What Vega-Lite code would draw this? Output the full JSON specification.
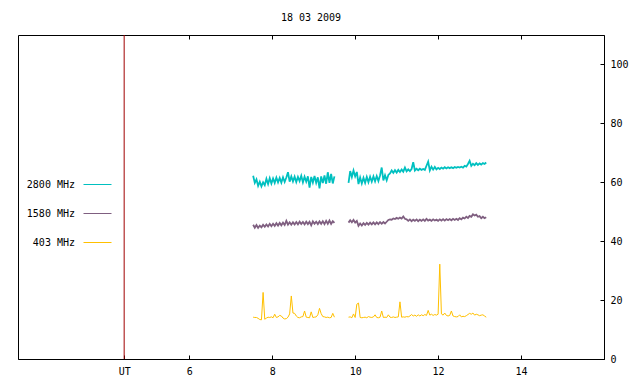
{
  "$schema": "https://vega.github.io/schema/vega-lite/v6.json",
  "autosize": "none",
  "width": 586,
  "height": 324,
  "padding": {"left": 18, "top": 35, "right": 36, "bottom": 25},
  "background": "white",
  "title": {"text": "18 03 2009", "font": "DejaVu Sans Mono", "fontSize": 10, "fontWeight": "normal", "color": "black", "anchor": "middle", "offset": 12},
  "config": {
    "view": {"stroke": "black", "strokeWidth": 1},
    "axis": {"domainColor": "black", "tickColor": "black", "labelColor": "black", "labelFont": "DejaVu Sans Mono", "labelFontSize": 10, "grid": false, "title": null, "tickSize": -4, "domainWidth": 1}
  },
  "datasets": {
    "flux": [
      {"t": 7.54, "s": 1, "2800 MHz": 62.2, "1580 MHz": 45.6, "403 MHz": 14.2},
      {"t": 7.58, "s": 1, "2800 MHz": 59.8, "1580 MHz": 44.6, "403 MHz": 14.1},
      {"t": 7.62, "s": 1, "2800 MHz": 61.0, "1580 MHz": 45.5, "403 MHz": 14.1},
      {"t": 7.66, "s": 1, "2800 MHz": 58.8, "1580 MHz": 44.5, "403 MHz": 13.8},
      {"t": 7.70, "s": 1, "2800 MHz": 60.2, "1580 MHz": 45.3, "403 MHz": 13.4},
      {"t": 7.74, "s": 1, "2800 MHz": 58.6, "1580 MHz": 44.7, "403 MHz": 13.3},
      {"t": 7.78, "s": 1, "2800 MHz": 60.0, "1580 MHz": 45.6, "403 MHz": 22.6},
      {"t": 7.82, "s": 1, "2800 MHz": 59.0, "1580 MHz": 44.9, "403 MHz": 13.5},
      {"t": 7.86, "s": 1, "2800 MHz": 61.2, "1580 MHz": 45.7, "403 MHz": 13.9},
      {"t": 7.90, "s": 1, "2800 MHz": 59.4, "1580 MHz": 45.0, "403 MHz": 14.2},
      {"t": 7.94, "s": 1, "2800 MHz": 61.4, "1580 MHz": 45.9, "403 MHz": 14.1},
      {"t": 7.98, "s": 1, "2800 MHz": 59.6, "1580 MHz": 45.1, "403 MHz": 14.3},
      {"t": 8.02, "s": 1, "2800 MHz": 61.3, "1580 MHz": 45.9, "403 MHz": 14.0},
      {"t": 8.06, "s": 1, "2800 MHz": 59.8, "1580 MHz": 45.2, "403 MHz": 15.2},
      {"t": 8.10, "s": 1, "2800 MHz": 61.6, "1580 MHz": 46.1, "403 MHz": 14.1},
      {"t": 8.14, "s": 1, "2800 MHz": 60.0, "1580 MHz": 45.3, "403 MHz": 14.3},
      {"t": 8.18, "s": 1, "2800 MHz": 61.5, "1580 MHz": 46.2, "403 MHz": 14.8},
      {"t": 8.22, "s": 1, "2800 MHz": 59.9, "1580 MHz": 45.4, "403 MHz": 14.6},
      {"t": 8.26, "s": 1, "2800 MHz": 61.7, "1580 MHz": 46.3, "403 MHz": 13.9},
      {"t": 8.30, "s": 1, "2800 MHz": 60.1, "1580 MHz": 45.5, "403 MHz": 13.6},
      {"t": 8.34, "s": 1, "2800 MHz": 61.6, "1580 MHz": 46.9, "403 MHz": 13.7},
      {"t": 8.38, "s": 1, "2800 MHz": 63.4, "1580 MHz": 45.6, "403 MHz": 14.2},
      {"t": 8.42, "s": 1, "2800 MHz": 60.2, "1580 MHz": 46.4, "403 MHz": 15.3},
      {"t": 8.46, "s": 1, "2800 MHz": 62.0, "1580 MHz": 45.6, "403 MHz": 21.4},
      {"t": 8.50, "s": 1, "2800 MHz": 60.3, "1580 MHz": 46.4, "403 MHz": 15.6},
      {"t": 8.54, "s": 1, "2800 MHz": 61.9, "1580 MHz": 45.7, "403 MHz": 15.5},
      {"t": 8.58, "s": 1, "2800 MHz": 60.1, "1580 MHz": 46.5, "403 MHz": 14.6},
      {"t": 8.62, "s": 1, "2800 MHz": 61.8, "1580 MHz": 45.7, "403 MHz": 14.1},
      {"t": 8.66, "s": 1, "2800 MHz": 60.4, "1580 MHz": 46.6, "403 MHz": 14.0},
      {"t": 8.70, "s": 1, "2800 MHz": 62.2, "1580 MHz": 45.8, "403 MHz": 14.3},
      {"t": 8.74, "s": 1, "2800 MHz": 60.0, "1580 MHz": 46.5, "403 MHz": 14.4},
      {"t": 8.78, "s": 1, "2800 MHz": 61.9, "1580 MHz": 45.7, "403 MHz": 16.3},
      {"t": 8.82, "s": 1, "2800 MHz": 60.2, "1580 MHz": 46.6, "403 MHz": 14.2},
      {"t": 8.86, "s": 1, "2800 MHz": 62.0, "1580 MHz": 45.8, "403 MHz": 14.1},
      {"t": 8.90, "s": 1, "2800 MHz": 58.2, "1580 MHz": 46.6, "403 MHz": 14.0},
      {"t": 8.94, "s": 1, "2800 MHz": 61.8, "1580 MHz": 45.4, "403 MHz": 16.0},
      {"t": 8.98, "s": 1, "2800 MHz": 59.9, "1580 MHz": 46.7, "403 MHz": 14.1},
      {"t": 9.02, "s": 1, "2800 MHz": 62.1, "1580 MHz": 45.9, "403 MHz": 14.2},
      {"t": 9.06, "s": 1, "2800 MHz": 59.8, "1580 MHz": 46.6, "403 MHz": 14.3},
      {"t": 9.10, "s": 1, "2800 MHz": 61.7, "1580 MHz": 45.8, "403 MHz": 15.0},
      {"t": 9.14, "s": 1, "2800 MHz": 57.9, "1580 MHz": 46.7, "403 MHz": 17.2},
      {"t": 9.18, "s": 1, "2800 MHz": 62.0, "1580 MHz": 45.9, "403 MHz": 15.4},
      {"t": 9.22, "s": 1, "2800 MHz": 59.7, "1580 MHz": 46.8, "403 MHz": 14.4},
      {"t": 9.26, "s": 1, "2800 MHz": 62.3, "1580 MHz": 45.8, "403 MHz": 14.3},
      {"t": 9.30, "s": 1, "2800 MHz": 59.5, "1580 MHz": 46.9, "403 MHz": 14.1},
      {"t": 9.34, "s": 1, "2800 MHz": 63.4, "1580 MHz": 45.9, "403 MHz": 14.2},
      {"t": 9.38, "s": 1, "2800 MHz": 59.8, "1580 MHz": 47.0, "403 MHz": 14.0},
      {"t": 9.42, "s": 1, "2800 MHz": 62.8, "1580 MHz": 45.9, "403 MHz": 14.1},
      {"t": 9.46, "s": 1, "2800 MHz": 59.6, "1580 MHz": 46.8, "403 MHz": 15.5},
      {"t": 9.50, "s": 1, "2800 MHz": 62.0, "1580 MHz": 46.2, "403 MHz": 14.2},
      {"t": 9.84, "s": 2, "2800 MHz": 59.8, "1580 MHz": 46.3, "403 MHz": 14.2},
      {"t": 9.88, "s": 2, "2800 MHz": 63.8, "1580 MHz": 47.1, "403 MHz": 14.3},
      {"t": 9.92, "s": 2, "2800 MHz": 61.8, "1580 MHz": 46.4, "403 MHz": 14.0},
      {"t": 9.96, "s": 2, "2800 MHz": 64.0, "1580 MHz": 47.2, "403 MHz": 15.3},
      {"t": 10.00, "s": 2, "2800 MHz": 62.0, "1580 MHz": 46.3, "403 MHz": 14.1},
      {"t": 10.04, "s": 2, "2800 MHz": 63.5, "1580 MHz": 46.9, "403 MHz": 18.6},
      {"t": 10.08, "s": 2, "2800 MHz": 59.4, "1580 MHz": 45.2, "403 MHz": 19.0},
      {"t": 10.12, "s": 2, "2800 MHz": 61.6, "1580 MHz": 46.0, "403 MHz": 14.1},
      {"t": 10.16, "s": 2, "2800 MHz": 59.6, "1580 MHz": 45.3, "403 MHz": 14.0},
      {"t": 10.20, "s": 2, "2800 MHz": 61.5, "1580 MHz": 46.1, "403 MHz": 14.1},
      {"t": 10.24, "s": 2, "2800 MHz": 59.8, "1580 MHz": 45.5, "403 MHz": 14.2},
      {"t": 10.28, "s": 2, "2800 MHz": 61.8, "1580 MHz": 46.2, "403 MHz": 14.0},
      {"t": 10.32, "s": 2, "2800 MHz": 60.0, "1580 MHz": 45.6, "403 MHz": 14.4},
      {"t": 10.36, "s": 2, "2800 MHz": 61.9, "1580 MHz": 46.3, "403 MHz": 14.2},
      {"t": 10.40, "s": 2, "2800 MHz": 60.2, "1580 MHz": 45.7, "403 MHz": 14.1},
      {"t": 10.44, "s": 2, "2800 MHz": 62.0, "1580 MHz": 46.4, "403 MHz": 14.3},
      {"t": 10.48, "s": 2, "2800 MHz": 60.3, "1580 MHz": 45.7, "403 MHz": 15.0},
      {"t": 10.52, "s": 2, "2800 MHz": 62.1, "1580 MHz": 46.4, "403 MHz": 14.1},
      {"t": 10.56, "s": 2, "2800 MHz": 60.4, "1580 MHz": 45.8, "403 MHz": 14.0},
      {"t": 10.60, "s": 2, "2800 MHz": 62.3, "1580 MHz": 46.5, "403 MHz": 14.2},
      {"t": 10.64, "s": 2, "2800 MHz": 65.0, "1580 MHz": 45.9, "403 MHz": 16.3},
      {"t": 10.68, "s": 2, "2800 MHz": 60.6, "1580 MHz": 46.5, "403 MHz": 14.1},
      {"t": 10.72, "s": 2, "2800 MHz": 62.4, "1580 MHz": 46.0, "403 MHz": 14.2},
      {"t": 10.76, "s": 2, "2800 MHz": 60.7, "1580 MHz": 46.6, "403 MHz": 14.1},
      {"t": 10.80, "s": 2, "2800 MHz": 62.5, "1580 MHz": 47.2, "403 MHz": 15.0},
      {"t": 10.84, "s": 2, "2800 MHz": 63.0, "1580 MHz": 47.4, "403 MHz": 14.2},
      {"t": 10.88, "s": 2, "2800 MHz": 64.0, "1580 MHz": 47.3, "403 MHz": 14.1},
      {"t": 10.92, "s": 2, "2800 MHz": 63.2, "1580 MHz": 47.7, "403 MHz": 14.3},
      {"t": 10.96, "s": 2, "2800 MHz": 64.1, "1580 MHz": 47.5, "403 MHz": 14.1},
      {"t": 11.00, "s": 2, "2800 MHz": 63.3, "1580 MHz": 47.9, "403 MHz": 14.2},
      {"t": 11.04, "s": 2, "2800 MHz": 64.2, "1580 MHz": 47.6, "403 MHz": 14.3},
      {"t": 11.08, "s": 2, "2800 MHz": 63.5, "1580 MHz": 48.0, "403 MHz": 19.4},
      {"t": 11.12, "s": 2, "2800 MHz": 64.3, "1580 MHz": 47.7, "403 MHz": 14.2},
      {"t": 11.16, "s": 2, "2800 MHz": 63.6, "1580 MHz": 48.4, "403 MHz": 14.3},
      {"t": 11.20, "s": 2, "2800 MHz": 65.0, "1580 MHz": 47.6, "403 MHz": 14.2},
      {"t": 11.24, "s": 2, "2800 MHz": 63.7, "1580 MHz": 47.4, "403 MHz": 14.4},
      {"t": 11.28, "s": 2, "2800 MHz": 64.4, "1580 MHz": 46.9, "403 MHz": 14.3},
      {"t": 11.32, "s": 2, "2800 MHz": 63.8, "1580 MHz": 47.4, "403 MHz": 14.6},
      {"t": 11.36, "s": 2, "2800 MHz": 64.5, "1580 MHz": 46.8, "403 MHz": 15.1},
      {"t": 11.40, "s": 2, "2800 MHz": 66.8, "1580 MHz": 47.3, "403 MHz": 14.6},
      {"t": 11.44, "s": 2, "2800 MHz": 64.0, "1580 MHz": 46.9, "403 MHz": 14.9},
      {"t": 11.48, "s": 2, "2800 MHz": 64.6, "1580 MHz": 47.4, "403 MHz": 14.5},
      {"t": 11.52, "s": 2, "2800 MHz": 64.1, "1580 MHz": 46.8, "403 MHz": 15.0},
      {"t": 11.56, "s": 2, "2800 MHz": 64.6, "1580 MHz": 47.3, "403 MHz": 14.6},
      {"t": 11.60, "s": 2, "2800 MHz": 64.2, "1580 MHz": 46.9, "403 MHz": 15.0},
      {"t": 11.64, "s": 2, "2800 MHz": 64.5, "1580 MHz": 47.4, "403 MHz": 14.7},
      {"t": 11.68, "s": 2, "2800 MHz": 64.2, "1580 MHz": 46.9, "403 MHz": 15.1},
      {"t": 11.72, "s": 2, "2800 MHz": 65.6, "1580 MHz": 47.6, "403 MHz": 14.8},
      {"t": 11.76, "s": 2, "2800 MHz": 67.0, "1580 MHz": 47.0, "403 MHz": 16.5},
      {"t": 11.80, "s": 2, "2800 MHz": 64.0, "1580 MHz": 47.3, "403 MHz": 14.9},
      {"t": 11.84, "s": 2, "2800 MHz": 65.3, "1580 MHz": 46.9, "403 MHz": 15.2},
      {"t": 11.88, "s": 2, "2800 MHz": 64.3, "1580 MHz": 47.4, "403 MHz": 14.8},
      {"t": 11.92, "s": 2, "2800 MHz": 65.2, "1580 MHz": 47.0, "403 MHz": 15.1},
      {"t": 11.96, "s": 2, "2800 MHz": 64.4, "1580 MHz": 47.3, "403 MHz": 14.9},
      {"t": 12.00, "s": 2, "2800 MHz": 64.9, "1580 MHz": 46.9, "403 MHz": 15.2},
      {"t": 12.04, "s": 2, "2800 MHz": 64.5, "1580 MHz": 47.4, "403 MHz": 32.2},
      {"t": 12.08, "s": 2, "2800 MHz": 65.0, "1580 MHz": 47.0, "403 MHz": 15.3},
      {"t": 12.12, "s": 2, "2800 MHz": 64.6, "1580 MHz": 47.5, "403 MHz": 14.9},
      {"t": 12.16, "s": 2, "2800 MHz": 65.1, "1580 MHz": 47.0, "403 MHz": 15.6},
      {"t": 12.20, "s": 2, "2800 MHz": 64.7, "1580 MHz": 47.5, "403 MHz": 14.8},
      {"t": 12.24, "s": 2, "2800 MHz": 65.1, "1580 MHz": 47.1, "403 MHz": 14.6},
      {"t": 12.28, "s": 2, "2800 MHz": 64.8, "1580 MHz": 47.5, "403 MHz": 14.8},
      {"t": 12.32, "s": 2, "2800 MHz": 65.1, "1580 MHz": 47.1, "403 MHz": 16.3},
      {"t": 12.36, "s": 2, "2800 MHz": 64.8, "1580 MHz": 47.6, "403 MHz": 14.6},
      {"t": 12.40, "s": 2, "2800 MHz": 65.2, "1580 MHz": 47.2, "403 MHz": 14.4},
      {"t": 12.44, "s": 2, "2800 MHz": 64.9, "1580 MHz": 47.6, "403 MHz": 14.3},
      {"t": 12.48, "s": 2, "2800 MHz": 65.2, "1580 MHz": 47.2, "403 MHz": 14.4},
      {"t": 12.52, "s": 2, "2800 MHz": 65.0, "1580 MHz": 47.8, "403 MHz": 15.0},
      {"t": 12.56, "s": 2, "2800 MHz": 65.3, "1580 MHz": 47.4, "403 MHz": 14.3},
      {"t": 12.60, "s": 2, "2800 MHz": 65.0, "1580 MHz": 48.0, "403 MHz": 14.5},
      {"t": 12.64, "s": 2, "2800 MHz": 65.6, "1580 MHz": 47.7, "403 MHz": 14.4},
      {"t": 12.68, "s": 2, "2800 MHz": 65.3, "1580 MHz": 48.3, "403 MHz": 14.7},
      {"t": 12.72, "s": 2, "2800 MHz": 66.2, "1580 MHz": 47.9, "403 MHz": 15.1},
      {"t": 12.76, "s": 2, "2800 MHz": 67.3, "1580 MHz": 48.6, "403 MHz": 15.5},
      {"t": 12.80, "s": 2, "2800 MHz": 65.6, "1580 MHz": 48.3, "403 MHz": 15.2},
      {"t": 12.84, "s": 2, "2800 MHz": 66.3, "1580 MHz": 49.1, "403 MHz": 15.6},
      {"t": 12.88, "s": 2, "2800 MHz": 65.8, "1580 MHz": 48.7, "403 MHz": 14.9},
      {"t": 12.92, "s": 2, "2800 MHz": 66.5, "1580 MHz": 49.0, "403 MHz": 15.2},
      {"t": 12.96, "s": 2, "2800 MHz": 65.9, "1580 MHz": 48.3, "403 MHz": 15.0},
      {"t": 13.00, "s": 2, "2800 MHz": 66.4, "1580 MHz": 48.5, "403 MHz": 14.7},
      {"t": 13.04, "s": 2, "2800 MHz": 66.0, "1580 MHz": 47.8, "403 MHz": 14.9},
      {"t": 13.08, "s": 2, "2800 MHz": 66.5, "1580 MHz": 48.3, "403 MHz": 15.0},
      {"t": 13.12, "s": 2, "2800 MHz": 66.2, "1580 MHz": 47.8, "403 MHz": 14.6},
      {"t": 13.16, "s": 2, "2800 MHz": 66.7, "1580 MHz": 48.1, "403 MHz": 14.2}
    ],
    "marker": [{"ut": 4.43}]
  },
  "resolve": {"axis": {"x": "independent"}},
  "layer": [
    {
      "data": {"name": "marker"},
      "mark": {"type": "rule", "color": "#a00000", "strokeWidth": 1},
      "encoding": {
        "x": {"field": "ut", "type": "quantitative", "scale": {"domain": [1.87, 16.0], "nice": false, "zero": false},
          "axis": {"orient": "top", "values": [6, 8, 10, 12, 14], "labels": false, "tickSize": -4, "domain": false}}
      }
    },
    {
      "data": {"name": "flux"},
      "transform": [
        {"fold": ["2800 MHz", "1580 MHz", "403 MHz"], "as": ["band", "v"]},
        {"filter": "datum.band != '403 MHz'"}
      ],
      "mark": {"type": "line", "clip": true, "strokeWidth": 1.8},
      "encoding": {
        "x": {"field": "t", "type": "quantitative", "scale": {"domain": [1.87, 16.0], "nice": false, "zero": false},
          "axis": {"orient": "bottom", "values": [4.43, 6, 8, 10, 12, 14], "labelExpr": "datum.value < 5 ? 'UT' : datum.label", "tickSize": -4, "labelPadding": 11}},
        "y": {"field": "v", "type": "quantitative", "scale": {"domain": [0, 110], "nice": false},
          "axis": {"orient": "right", "values": [0, 20, 40, 60, 80, 100], "tickSize": -4, "labelPadding": 10}},
        "color": {"field": "band", "type": "nominal",
          "scale": {"domain": ["2800 MHz", "1580 MHz", "403 MHz"], "range": ["#00c0c0", "#7f5f80", "#ffc000"]},
          "legend": {"title": null, "orient": "none", "legendX": 65, "legendY": 135, "symbolType": "stroke", "symbolSize": 784, "symbolStrokeWidth": 1, "symbolOpacity": 1, "labelAlign": "right", "labelOffset": -37, "labelFont": "DejaVu Sans Mono", "labelFontSize": 10, "labelColor": "black", "rowPadding": 9, "padding": 0,
            "encode": {"symbols": {"update": {"stroke": {"scale": "color", "field": "value"}, "strokeWidth": {"value": 1}}}}}},
        "detail": {"field": "s", "type": "nominal"}
      }
    },
    {
      "data": {"name": "flux"},
      "transform": [
        {"fold": ["2800 MHz", "1580 MHz", "403 MHz"], "as": ["band", "v"]},
        {"filter": "datum.band == '403 MHz'"}
      ],
      "mark": {"type": "line", "clip": true, "strokeWidth": 1},
      "encoding": {
        "x": {"field": "t", "type": "quantitative", "scale": {"domain": [1.87, 16.0], "nice": false, "zero": false}, "axis": null},
        "y": {"field": "v", "type": "quantitative", "scale": {"domain": [0, 110], "nice": false}},
        "color": {"field": "band", "type": "nominal",
          "scale": {"domain": ["2800 MHz", "1580 MHz", "403 MHz"], "range": ["#00c0c0", "#7f5f80", "#ffc000"]}},
        "detail": {"field": "s", "type": "nominal"}
      }
    }
  ]
}
